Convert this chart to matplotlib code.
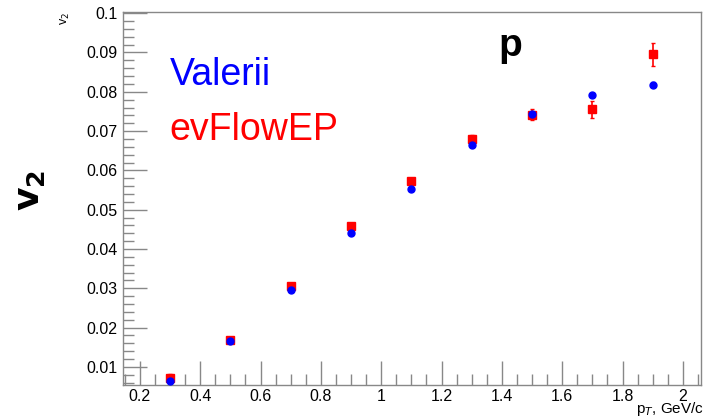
import matplotlib
matplotlib.use("Agg")
import matplotlib.pyplot as plt
from matplotlib.ticker import MultipleLocator

plt.rcParams['font.family'] = ['Liberation Sans', 'DejaVu Sans']

pt = [0.3, 0.5, 0.7, 0.9, 1.1, 1.3, 1.5, 1.7, 1.9]
v2_valerii = [0.0064, 0.0166, 0.0296, 0.0440, 0.0553, 0.0664, 0.0744, 0.0791, 0.0818]
err_valerii = [0.0003, 0.0003, 0.0003, 0.0003, 0.0003, 0.0003, 0.0004, 0.0004, 0.0007]
v2_evflow = [0.0073, 0.0168, 0.0306, 0.0459, 0.0573, 0.0680, 0.0741, 0.0755, 0.0895]
err_evflow = [0.0009, 0.0006, 0.0006, 0.0007, 0.0007, 0.0009, 0.0014, 0.0022, 0.0029]

fig = plt.figure(figsize=(7.06, 4.18), dpi=100)
ax = fig.add_axes([0.1742, 0.0789, 0.8187, 0.8924])

ax.errorbar(pt, v2_evflow, yerr=err_evflow, fmt='s', color='red', ms=5.5,
            capsize=1.5, elinewidth=1.2, capthick=1.0, zorder=3)
ax.errorbar(pt, v2_valerii, yerr=err_valerii, fmt='o', color='blue', ms=5,
            capsize=1.5, elinewidth=1.2, capthick=1.0, zorder=4)

ax.set_xlim(0.144, 2.06)
ax.set_ylim(0.0054, 0.1003)

ax.xaxis.set_major_locator(MultipleLocator(0.2))
ax.xaxis.set_minor_locator(MultipleLocator(0.05))
ax.yaxis.set_major_locator(MultipleLocator(0.01))
ax.yaxis.set_minor_locator(MultipleLocator(0.002))

def xfmt(v, p):
    s = '%.1f' % v
    if s.endswith('.0'):
        s = s[:-2]
    return s

def yfmt(v, p):
    s = '%.2f' % v
    if s == '0.10':
        s = '0.1'
    return s

ax.xaxis.set_major_formatter(plt.FuncFormatter(xfmt))
ax.yaxis.set_major_formatter(plt.FuncFormatter(yfmt))

ax.tick_params(axis='both', which='major', direction='in', length=17, width=1,
               color='#888888', labelsize=11.5, top=False, right=False, pad=4)
ax.tick_params(axis='x', which='major', pad=3)
ax.tick_params(axis='both', which='minor', direction='in', length=8, width=1,
               color='#888888', top=False, right=False)
for s in ax.spines.values():
    s.set_color('#888888')
    s.set_linewidth(1)

fig.text(0.042, 0.545, r'$\mathbf{v_2}$', fontsize=26, rotation=90,
         ha='center', va='center', fontweight='bold')
fig.text(0.093, 0.955, r'v$_2$', fontsize=9, rotation=90, ha='center', va='center')
fig.text(0.997, 0.0, r'p$_T$, GeV/c', fontsize=11, ha='right', va='bottom')

fig.text(0.24, 0.82, 'Valerii', fontsize=27, color='blue', ha='left', va='center')
fig.text(0.24, 0.69, 'evFlowEP', fontsize=27, color='red', ha='left', va='center')
fig.text(0.723, 0.89, 'p', fontsize=28, fontweight='bold', ha='center', va='center')

fig.savefig('out.png', dpi=100)
